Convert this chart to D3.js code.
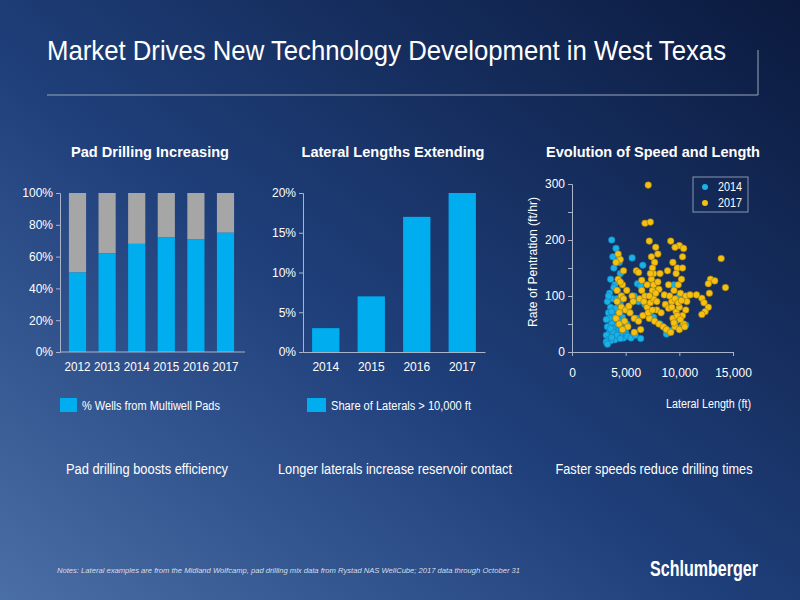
<!DOCTYPE html>
<html><head><meta charset="utf-8">
<script src="https://cdn.jsdelivr.net/npm/d3@7"></script>
<style>
body{margin:0;width:800px;height:600px;overflow:hidden}
text{font-family:"Liberation Sans",Arial,sans-serif}
</style></head>
<body><svg id="c" width="800" height="600"></svg>
<script>
// pad drilling
var padYears = ["2012","2013","2014","2015","2016","2017"];
var padShare = [50, 62, 68, 72, 71, 75];
// lateral lengths
var latYears = ["2014","2015","2016","2017"];
var latShare = [3, 7, 17, 20];
// scatter: [lateral length ft, ROP ft/hr]
var rop2014 = [[3700,200],[4100,185],[4300,170],[3900,150],[4500,140],[4000,120],[3500,105],[4200,110],[4600,100],[3800,95],[3300,90],[4400,88],[3600,80],[4100,78],[4800,75],[3400,70],[3900,68],[4300,65],[4700,62],[3500,60],[3200,58],[4000,55],[4500,52],[3700,50],[4200,48],[4900,46],[3300,45],[3800,42],[4400,40],[4600,38],[3500,35],[4100,34],[4700,32],[3200,30],[3900,28],[4300,26],[4800,25],[3400,22],[4000,22],[3600,20],[3200,18],[3300,14],[4500,30],[5000,35],[5200,28],[5500,25],[5900,30],[6400,24],[5600,168],[6600,155],[6100,122],[6400,118],[5800,100],[6200,90],[6800,85],[7300,70],[7600,62],[8200,50],[8700,42],[9200,38],[9700,55],[10200,45],[10600,48],[9500,120],[10000,100],[8800,32],[6000,60],[5400,70],
  [3600,130],[3900,115],[4200,95],[4500,85],[3700,72],[4000,62],[4300,58],[4600,44],[3800,36],[4200,30],[4500,24],[3700,26],[4900,40],[5100,50],[4400,160],[3800,170],[3400,100],[3600,42]];
var rop2017 = [[7100,298],[6800,230],[7300,232],[7200,198],[9200,198],[10000,190],[10400,185],[9600,187],[7800,187],[8000,175],[7400,170],[4300,175],[4500,165],[4100,160],[7700,160],[9400,160],[10300,170],[4800,145],[6000,145],[6200,142],[8900,145],[7600,140],[9800,150],[13900,167],[14300,115],[12900,130],[13300,127],[12700,122],[4300,130],[4700,120],[5100,110],[5600,100],[6500,128],[7000,120],[7500,110],[8100,112],[8600,102],[9100,100],[9500,110],[10100,105],[10600,100],[11000,102],[11600,102],[12100,96],[12300,88],[12800,105],[12700,80],[12400,72],[12100,67],[4200,90],[4600,80],[5000,75],[5400,70],[5800,60],[6200,55],[6600,65],[7000,80],[7300,88],[7600,95],[7900,75],[8300,70],[8700,85],[9000,78],[9300,90],[9700,72],[10000,80],[10300,65],[10600,75],[4100,60],[4400,50],[4900,55],[5300,82],[5700,90],[6300,95],[6800,100],[7200,60],[7700,55],[8100,50],[8500,45],[8800,40],[9200,35],[9600,45],[10000,40],[10400,50],[9400,60],[9900,120],[10200,130],[8200,140],[7500,150],[4600,100],[5200,45],[6400,40],[5800,35],[4700,40],[10700,90],[10500,45],
  [7400,130],[7600,120],[7800,105],[7200,100],[7900,90],[9600,95],[9900,88],[10200,92],[9300,80],[9800,65],[10100,58],[9500,52],[7100,70],[7500,75],[6700,90],[6500,110],[4400,70],[4200,110],[4500,125],[4800,95],[9700,140],[10300,150],[8000,125],[7300,140],[9000,120]];

var svg = d3.select("#c");
var defs = svg.append("defs");
var g = defs.append("linearGradient").attr("id","bg").attr("x1","0%").attr("y1","100%").attr("x2","100%").attr("y2","0%");
g.append("stop").attr("offset","0%").attr("stop-color","#4a6ea6");
g.append("stop").attr("offset","45%").attr("stop-color","#1f3f7a");
g.append("stop").attr("offset","100%").attr("stop-color","#0b1a3e");
svg.append("rect").attr("width",800).attr("height",600).attr("fill","url(#bg)");

function txt(x, y, t, size, len, anchor){
  return svg.append("text").attr("x",x).attr("y",y).attr("fill","#fff").attr("font-size",size)
    .attr("text-anchor",anchor||"start").attr("textLength",len).attr("lengthAdjust","spacingAndGlyphs").text(t);
}
txt(47,60,"Market Drives New Technology Development in West Texas",28,679);
svg.append("path").attr("d","M47,95H758V50").attr("fill","none").attr("stroke","#9aa6bd").attr("stroke-width",1);

var blue = "#00aeef", grey = "#a6a6a6", axisC = "#a9b4c8";
function styleAxis(a){
  a.selectAll("path,line").attr("stroke",axisC);
  a.selectAll("text").attr("fill","#fff").attr("font-size",12).attr("transform",null);
}
function title(x, t, len){ txt(x,157,t,15,len,"middle").attr("font-weight","bold"); }

// chart 1
title(150,"Pad Drilling Increasing",158);
var x1 = d3.scaleBand().domain(padYears).range([63,240]).paddingInner(0.42).paddingOuter(0.2);
var y1 = d3.scaleLinear().domain([0,100]).range([352,193]);
svg.append("g").selectAll("rect").data(padYears).join("rect").attr("x",d=>x1(d)).attr("width",x1.bandwidth()).attr("y",y1(100)).attr("height",(d,i)=>y1(padShare[i])-y1(100)).attr("fill",grey);
svg.append("g").selectAll("rect").data(padYears).join("rect").attr("x",d=>x1(d)).attr("width",x1.bandwidth()).attr("y",(d,i)=>y1(padShare[i])).attr("height",(d,i)=>352-y1(padShare[i])).attr("fill",blue);
styleAxis(svg.append("g").attr("transform","translate(60,0)").call(d3.axisLeft(y1).ticks(5).tickFormat(d=>d+"%").tickSize(4)));
var ax1 = svg.append("g").attr("transform","translate(0,352)").call(d3.axisBottom(x1).tickSize(0).tickPadding(10));
ax1.select("path").attr("d","M60,0H245"); styleAxis(ax1);
ax1.selectAll("text").attr("textLength",26).attr("lengthAdjust","spacingAndGlyphs");
svg.append("rect").attr("x",60).attr("y",398).attr("width",17).attr("height",14).attr("fill",blue);
txt(82,410,"% Wells from Multiwell Pads",12,138);

// chart 2
title(393,"Lateral Lengths Extending",183);
var x2 = d3.scaleBand().domain(latYears).range([303,485]).paddingInner(0.4).paddingOuter(0.2);
var y2 = d3.scaleLinear().domain([0,20]).range([352,193]);
svg.append("g").selectAll("rect").data(latYears).join("rect").attr("x",d=>x2(d)).attr("width",x2.bandwidth()).attr("y",(d,i)=>y2(latShare[i])).attr("height",(d,i)=>352-y2(latShare[i])).attr("fill",blue);
styleAxis(svg.append("g").attr("transform","translate(303,0)").call(d3.axisLeft(y2).ticks(4).tickFormat(d=>d+"%").tickSize(4)));
styleAxis(svg.append("g").attr("transform","translate(0,352)").call(d3.axisBottom(x2).tickSize(0).tickPadding(10)));
svg.append("rect").attr("x",307).attr("y",398).attr("width",19).attr("height",14).attr("fill",blue);
txt(331,410,"Share of Laterals > 10,000 ft",12,140);

// chart 3
title(653,"Evolution of Speed and Length",214);
var x3 = d3.scaleLinear().domain([0,15000]).range([572,733]);
var y3 = d3.scaleLinear().domain([0,300]).range([352,184]);
styleAxis(svg.append("g").attr("transform","translate(0,352)").call(d3.axisBottom(x3).tickValues([0,5000,10000,15000]).tickFormat(d3.format(",")).tickSize(4).tickPadding(12)));
styleAxis(svg.append("g").attr("transform","translate(572,0)").call(d3.axisLeft(y3).tickValues([0,50,100,150,200,250,300]).tickFormat(d=>d%100?"":d).tickSize(4)));
svg.append("g").selectAll("circle").data(rop2014).join("circle").attr("cx",d=>x3(d[0])).attr("cy",d=>y3(d[1])).attr("r",3.3).attr("fill","#1ab0e8").attr("stroke","#0d7fb0").attr("stroke-width",0.6);
svg.append("g").selectAll("circle").data(rop2017).join("circle").attr("cx",d=>x3(d[0])).attr("cy",d=>y3(d[1])).attr("r",3.3).attr("fill","#f5c010").attr("stroke","#9a7a10").attr("stroke-width",0.6);
svg.append("text").attr("transform","translate(537,262) rotate(-90)").attr("text-anchor","middle").attr("fill","#fff").attr("font-size",12).attr("textLength",130).attr("lengthAdjust","spacingAndGlyphs").text("Rate of Pentration (ft/hr)");
txt(751,408,"Lateral Length (ft)",12,85,"end");
svg.append("rect").attr("x",693).attr("y",177).attr("width",55).attr("height",35).attr("fill","none").attr("stroke","#8a96b0");
[["2014","#1ab0e8",187],["2017","#f5c010",203]].forEach(function(d){
  svg.append("circle").attr("cx",705).attr("cy",d[2]).attr("r",3).attr("fill",d[1]);
  txt(718,d[2]+4,d[0],12,24);
});

// captions
txt(147,474,"Pad drilling boosts efficiency",14,162,"middle");
txt(395,474,"Longer laterals increase reservoir contact",14,234,"middle");
txt(654,474,"Faster speeds reduce drilling times",14,197,"middle");
txt(57,573,"Notes: Lateral examples are from the Midland Wolfcamp, pad drilling mix data from Rystad NAS WellCube; 2017 data through October 31",8,463).attr("fill","#d8dde6").attr("font-style","italic");
txt(758,576,"Schlumberger",22,108,"end").attr("font-weight","bold");
</script></body></html>
